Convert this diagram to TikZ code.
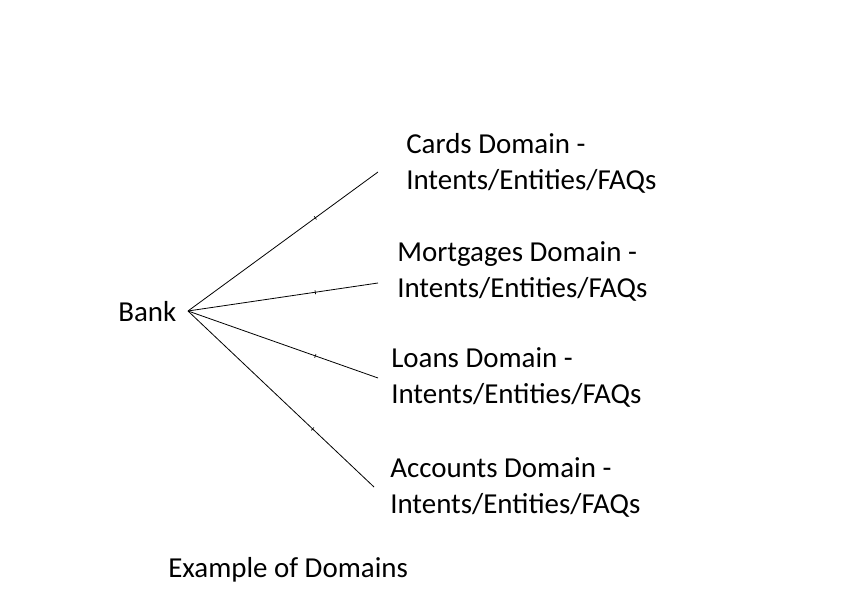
\documentclass[tikz,border=0pt]{standalone}
\usepackage{fontspec}
\setmainfont{Carlito}
\usepackage{tikz}
\tikzset{
  label_t/.style = {anchor=base west, inner sep=0pt, align=left,
    font=\fontsize{21.7}{27}\selectfont},
  link/.style = {line width=0.6pt, black},
  midtick/.style = {pos=0.67, sloped, draw, inner sep=0pt, minimum width=0pt,
    minimum height=3pt, line width=0.5pt}% petit trait sur le lien
}
\begin{document}
\begin{tikzpicture}[x=0.75pt,y=-0.75pt]
\useasboundingbox (0,0) rectangle (853,605);

\node [label_t] (bank) at (118,322) {Bank};
\node [label_t] (cards) at (406,190) {Cards Domain -\\Intents/Entities/FAQs};
\node [label_t] (mort) at (397,298) {Mortgages Domain -\\Intents/Entities/FAQs};
\node [label_t] (loans) at (391,404) {Loans Domain -\\Intents/Entities/FAQs};
\node [label_t] (acc) at (390,513) {Accounts Domain -\\Intents/Entities/FAQs};
\node [label_t] (caption) at (168,577) {Example of Domains};

\coordinate (hub) at (188,311);
\coordinate (e1) at (378,172);
\coordinate (e2) at (378,283);
\coordinate (e3) at (378,378);
\coordinate (e4) at (374,487);

\draw [link] (hub) -- node [midtick] {} (e1);
\draw [link] (hub) -- node [midtick] {} (e2);
\draw [link] (hub) -- node [midtick] {} (e3);
\draw [link] (hub) -- node [midtick] {} (e4);

\end{tikzpicture}
\end{document}
